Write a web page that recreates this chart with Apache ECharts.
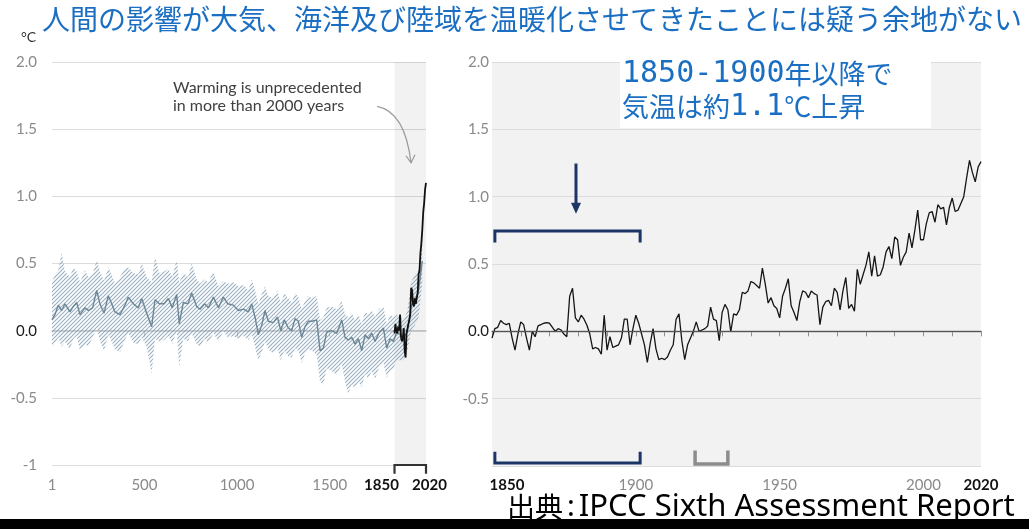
<!DOCTYPE html>
<html>
<head>
<meta charset="utf-8">
<script src="https://cdn.jsdelivr.net/npm/echarts@6/dist/echarts.min.js"></script>
<style>
  html, body { margin: 0; padding: 0; background: #fff; }
  #chart { width: 1029px; height: 529px; }
</style>
</head>
<body>
<div id="chart"></div>
<script>
// ---- Panel (a): reconstruction since year 1 ----
const reconYears = [1, 17, 35, 53, 71, 98, 116, 134, 152, 179, 197, 220, 242, 260, 282, 305, 323, 341, 368, 395,
  413, 440, 467, 485, 512, 539, 557, 580, 606, 629, 650, 674, 688, 710, 735, 755, 782, 800, 825, 845,
  872, 900, 926, 950, 980, 1007, 1035, 1061, 1079, 1097, 1115, 1133, 1151, 1169, 1195, 1218, 1236, 1255, 1277, 1295,
  1313, 1331, 1349, 1367, 1385, 1405, 1430, 1448, 1466, 1484, 1510, 1538, 1565, 1583, 1601, 1619, 1637, 1655, 1673, 1691,
  1709, 1727, 1745, 1765, 1790, 1808, 1826, 1844, 1862, 1880, 1900, 1920, 1940, 1960, 1980, 2000];
const reconMid = [0.08, 0.12, 0.19, 0.15, 0.20, 0.14, 0.18, 0.21, 0.12, 0.17, 0.15, 0.17, 0.30, 0.20, 0.13, 0.26, 0.20, 0.14, 0.12, 0.19,
  0.25, 0.20, 0.17, 0.24, 0.13, 0.03, 0.23, 0.20, 0.20, 0.24, 0.17, 0.27, 0.05, 0.21, 0.20, 0.28, 0.18, 0.16, 0.20, 0.17,
  0.25, 0.17, 0.25, 0.20, 0.19, 0.15, 0.16, 0.14, 0.20, 0.10, -0.03, 0.04, 0.15, 0.07, 0.06, 0.10, 0.00, 0.08, 0.02, 0.00,
  0.09, 0.07, -0.05, 0.03, 0.07, 0.07, 0.08, -0.15, -0.13, -0.01, 0.00, -0.02, 0.08, -0.05, -0.07, -0.05, -0.10, -0.06, -0.15, -0.03,
  -0.06, -0.02, -0.08, -0.02, 0.02, -0.13, -0.06, -0.08, -0.01, -0.03, -0.06, 0.00, 0.18, 0.22, 0.30, 0.52];
const reconHigh = [0.36, 0.42, 0.45, 0.58, 0.44, 0.40, 0.47, 0.44, 0.36, 0.45, 0.40, 0.42, 0.53, 0.44, 0.37, 0.47, 0.42, 0.35, 0.40, 0.46,
  0.47, 0.43, 0.42, 0.50, 0.40, 0.36, 0.55, 0.43, 0.44, 0.46, 0.40, 0.53, 0.36, 0.43, 0.40, 0.50, 0.38, 0.35, 0.38, 0.36,
  0.44, 0.33, 0.37, 0.35, 0.36, 0.33, 0.34, 0.30, 0.38, 0.30, 0.20, 0.27, 0.33, 0.26, 0.24, 0.30, 0.20, 0.28, 0.24, 0.21,
  0.28, 0.25, 0.16, 0.22, 0.26, 0.24, 0.26, 0.08, 0.10, 0.17, 0.18, 0.16, 0.22, 0.12, 0.10, 0.13, 0.08, 0.12, 0.05, 0.14,
  0.12, 0.15, 0.10, 0.16, 0.18, 0.05, 0.12, 0.10, 0.12, 0.10, 0.08, 0.15, 0.36, 0.42, 0.45, 0.70];
const reconLow = [-0.12, -0.10, -0.05, -0.12, -0.08, -0.14, -0.06, -0.04, -0.15, -0.10, -0.12, -0.05, 0.02, -0.08, -0.15, -0.03, -0.08, -0.14, -0.16, -0.07,
  -0.02, -0.09, -0.10, -0.05, -0.12, -0.32, -0.06, -0.08, -0.07, -0.04, -0.10, 0.00, -0.27, -0.06, -0.08, -0.02, -0.10, -0.12, -0.06, -0.09,
  -0.02, -0.08, 0.00, -0.05, -0.04, -0.06, -0.04, -0.07, -0.03, -0.12, -0.22, -0.16, -0.08, -0.14, -0.17, -0.13, -0.22, -0.15, -0.19, -0.20,
  -0.13, -0.15, -0.24, -0.17, -0.14, -0.15, -0.18, -0.38, -0.40, -0.28, -0.30, -0.33, -0.25, -0.38, -0.47, -0.40, -0.43, -0.38, -0.42, -0.32,
  -0.36, -0.30, -0.36, -0.28, -0.24, -0.35, -0.30, -0.28, -0.22, -0.22, -0.22, -0.15, 0.00, 0.04, 0.10, 0.35];

// Observed record drawn at the end of panel (a)
const obsYearsA = [1850, 1855, 1860, 1865, 1870, 1875, 1880, 1885, 1890, 1895, 1900, 1905, 1910, 1915, 1920, 1925, 1930, 1935,
  1940, 1945, 1950, 1955, 1960, 1965, 1970, 1975, 1980, 1985, 1990, 1995, 2000, 2005, 2010, 2015, 2020];
const obsValsA = [-0.02, 0.05, 0.00, -0.02, 0.03, 0.00, 0.12, -0.05, -0.08, -0.05, 0.02, -0.15, -0.20, -0.02, -0.03, 0.05, 0.08, 0.12,
  0.32, 0.30, 0.20, 0.18, 0.24, 0.20, 0.24, 0.28, 0.42, 0.45, 0.58, 0.65, 0.75, 0.88, 0.95, 1.05, 1.10];

// ---- Panel (b): annual observed anomaly 1850-2020 ----
const obsStartYear = 1850;
const obsAnnual = [
  -0.05, 0.02, 0.03, 0.08, 0.06, 0.05, 0.06, -0.05, -0.14, -0.02,
  0.07, 0.05, -0.05, -0.14, 0.00, -0.04, 0.04, 0.05, 0.06, 0.065,
  0.06, 0.03, 0.00, 0.02, 0.01, -0.02, -0.04, 0.26, 0.32, 0.10,
  0.07, 0.12, 0.09, 0.045, -0.02, -0.13, -0.12, -0.13, -0.17, 0.12,
  -0.14, -0.04, -0.12, -0.11, -0.10, -0.05, 0.09, 0.09, -0.10, 0.02,
  0.12, 0.06, -0.02, -0.10, -0.23, -0.09, 0.02, -0.13, -0.21, -0.20,
  -0.21, -0.19, -0.14, -0.10, 0.09, 0.13, -0.07, -0.21, -0.10, -0.05,
  0.00, 0.07, 0.00, 0.01, 0.02, 0.04, 0.18, 0.09, 0.08, -0.07,
  0.14, 0.20, 0.16, -0.005, 0.13, 0.12, 0.16, 0.29, 0.28, 0.30,
  0.37, 0.36, 0.34, 0.32, 0.47, 0.35, 0.21, 0.25, 0.19, 0.17,
  0.10, 0.26, 0.32, 0.39, 0.19, 0.14, 0.08, 0.22, 0.30, 0.29,
  0.25, 0.30, 0.28, 0.27, 0.05, 0.18, 0.22, 0.23, 0.19, 0.32,
  0.29, 0.16, 0.30, 0.40, 0.17, 0.20, 0.15, 0.46, 0.35, 0.42,
  0.49, 0.59, 0.41, 0.56, 0.41, 0.42, 0.48, 0.59, 0.63, 0.54,
  0.70, 0.68, 0.49, 0.55, 0.59, 0.73, 0.62, 0.75, 0.90, 0.68,
  0.68, 0.80, 0.88, 0.89, 0.81, 0.94, 0.91, 0.92, 0.79, 0.92,
  0.99, 0.89, 0.90, 0.95, 1.00, 1.14, 1.27, 1.18, 1.11, 1.22,
  1.26
];

// Tick labels
const leftXLabels = [1, 500, 1000, 1500, 1850, 2020];
const leftXTicks = [500, 1000, 1500];
const rightXLabels = [1850, 1900, 1950, 2000, 2020];

// Texts
const titleText = '人間の影響が大気、海洋及び陸域を温暖化させてきたことには疑う余地がない';
const noteLines = ['Warming is unprecedented', 'in more than 2000 years'];
const boxLine1 = ['1850-1900', '年以降で'];
const boxLine2 = ['気温は約', '1.1', '℃上昇'];
const sourceText = ['出典', ':', 'IPCC Sixth Assessment Report'];

const LAT = 'Lato, "Noto Sans", sans-serif';
const JP = '"Noto Sans CJK JP", "Noto Sans", sans-serif';
const BLUE = '#1b6fc3';

const chart = echarts.init(document.getElementById('chart'), null, { renderer: 'canvas' });

// diagonal hatching for the uncertainty band
function hatch() {
  const s = 4;
  const c = document.createElement('canvas');
  c.width = s; c.height = s;
  const g = c.getContext('2d');
  g.strokeStyle = 'rgba(128,155,176,0.8)';
  g.lineWidth = 1.1;
  g.beginPath();
  g.moveTo(-1, s + 1); g.lineTo(s + 1, -1);
  g.moveTo(-1, 1); g.lineTo(1, -1);
  g.moveTo(s - 1, s + 1); g.lineTo(s + 1, s - 1);
  g.stroke();
  return c;
}
const hatchImg = hatch();

function yAxisFor(gridIndex, margin, showMin) {
  return {
    type: 'value', gridIndex, min: -1, max: 2, interval: 0.5,
    axisLine: { show: false }, axisTick: { show: false },
    splitLine: { lineStyle: { color: '#dcdcdc', width: 1.2 } },
    axisLabel: {
      margin, color: '#8a8a8a', fontFamily: LAT, fontSize: 15,
      formatter: v => {
        if (v === -1) return showMin ? '-1' : '';
        if (v === 0) return '{z|0.0}';
        return v.toFixed(1);
      },
      rich: { z: { color: '#1a1a1a', fontFamily: LAT, fontSize: 15 } }
    }
  };
}

const boldRich = (pad) => ({ color: '#111', fontWeight: 'bold', fontFamily: LAT, fontSize: 15, padding: pad });

const option = {
  animation: false,
  backgroundColor: '#ffffff',
  grid: [
    { left: 52, right: 603, top: 62, bottom: 64 },
    { left: 492, right: 48, top: 62, bottom: 63, show: true, backgroundColor: '#f2f2f2', borderWidth: 0 }
  ],
  xAxis: [
    {
      type: 'value', gridIndex: 0, min: 1, max: 2020,
      axisLine: { lineStyle: { color: '#c6c6c6', width: 1.5 } },
      axisTick: { customValues: leftXTicks, length: 6, lineStyle: { color: '#c6c6c6', width: 1.2 } },
      splitLine: { show: false },
      axisLabel: {
        customValues: leftXLabels, margin: 13, color: '#8a8a8a', fontFamily: LAT, fontSize: 15,
        formatter: v => v === 1850 ? '{b|1850}' : v === 2020 ? '{e|2020}' : String(v),
        rich: { b: boldRich([0, 26, 0, 0]), e: boldRich([0, 0, 0, 7]) }
      }
    },
    {
      type: 'value', gridIndex: 1, min: 1850, max: 2020, interval: 10,
      axisLine: { lineStyle: { color: '#707070', width: 1.3 } },
      axisTick: { length: 5, lineStyle: { color: '#909090', width: 1 } },
      splitLine: { show: false },
      axisLabel: {
        margin: 12, color: '#8a8a8a', fontFamily: LAT, fontSize: 15,
        formatter: v => {
          if (v === 1850) return '{b|1850}';
          if (v === 2020) return '{e|2020}';
          return rightXLabels.indexOf(v) >= 0 ? String(v) : '';
        },
        rich: { b: boldRich([0, 0, 0, 30]), e: boldRich([0, 0, 0, 0]) }
      }
    }
  ],
  yAxis: [yAxisFor(0, 15, true), yAxisFor(1, 3, false)],
  series: [
    {
      name: 'band', type: 'custom', xAxisIndex: 0, yAxisIndex: 0, silent: true, z: 2,
      data: [[reconYears[0], reconMid[0]]],
      renderItem: (params, api) => {
        const pts = [];
        for (let i = 0; i < reconYears.length; i++) pts.push(api.coord([reconYears[i], reconHigh[i]]));
        for (let i = reconYears.length - 1; i >= 0; i--) pts.push(api.coord([reconYears[i], reconLow[i]]));
        return { type: 'polygon', shape: { points: pts }, style: { fill: { image: hatchImg, repeat: 'repeat' }, stroke: null } };
      }
    },
    {
      name: 'recon', type: 'line', xAxisIndex: 0, yAxisIndex: 0, z: 3,
      showSymbol: false, silent: true,
      data: reconYears.map((y, i) => [y, reconMid[i]]),
      lineStyle: { color: '#6c8696', width: 1.4 },
      markArea: {
        silent: true,
        itemStyle: { color: 'rgba(0,0,0,0.05)' },
        data: [[{ xAxis: 1850 }, { xAxis: 2020 }]]
      }
    },
    {
      name: 'observedA', type: 'line', xAxisIndex: 0, yAxisIndex: 0, z: 4,
      showSymbol: false, silent: true,
      data: obsYearsA.map((y, i) => [y, obsValsA[i]]),
      lineStyle: { color: '#111', width: 1.8 }
    },
    {
      name: 'observedB', type: 'line', xAxisIndex: 1, yAxisIndex: 1, z: 4,
      showSymbol: false, silent: true,
      data: obsAnnual.map((v, i) => [obsStartYear + i, v]),
      lineStyle: { color: '#151515', width: 1.3 },
      markLine: {
        silent: true, symbol: 'none', label: { show: false },
        lineStyle: { color: '#555', width: 1.2, type: 'solid' },
        data: [{ yAxis: 0 }]
      }
    }
  ]
};
chart.setOption(option);

// ---- annotations placed through the axis scales ----
const pA = (x, y) => chart.convertToPixel({ gridIndex: 0 }, [x, y]);
const pB = (x, y) => chart.convertToPixel({ gridIndex: 1 }, [x, y]);

function bracket(pts, color, width) {
  return { type: 'polyline', shape: { points: pts }, style: { stroke: color, lineWidth: width, fill: null, lineJoin: 'miter' }, z: 50 };
}

const NAVY = '#1d3566';
const g = [];

// 1850-2020 marker on panel (a) axis
g.push(bracket([pA(1850, -1.065), pA(1850, -1), pA(2020, -1), pA(2020, -1.065)], '#333', 2.2));

// reference period brackets on panel (b)
g.push(bracket([pB(1851, 0.66), pB(1851, 0.745), pB(1901.5, 0.745), pB(1901.5, 0.66)], NAVY, 3));
g.push(bracket([pB(1851, -0.895), pB(1851, -0.978), pB(1901.5, -0.978), pB(1901.5, -0.895)], NAVY, 3));
g.push(bracket([pB(1920.6, -0.885), pB(1920.6, -0.985), pB(1932, -0.985), pB(1932, -0.885)], '#8c8c8c', 3.5));

// down arrow above the reference period
const aTop = pB(1879.2, 1.246), aTip = pB(1879.2, 0.873);
g.push({ type: 'line', shape: { x1: aTop[0], y1: aTop[1], x2: aTip[0], y2: aTip[1] - 8 }, style: { stroke: NAVY, lineWidth: 3 }, z: 50 });
g.push({ type: 'polygon', shape: { points: [[aTip[0] - 5, aTip[1] - 11], [aTip[0] + 5, aTip[1] - 11], [aTip[0], aTip[1]]] }, style: { fill: NAVY }, z: 50 });

// curved pointer from the note to the recent warming
const c0 = pA(1756, 1.67), c1 = pA(1907, 1.63), c2 = pA(1939, 1.25);
g.push({ type: 'bezierCurve', shape: { x1: c0[0], y1: c0[1], cpx1: c1[0], cpy1: c1[1], x2: c2[0], y2: c2[1] }, style: { stroke: '#9a9a9a', lineWidth: 1.2, fill: null }, z: 50 });
g.push({ type: 'polyline', shape: { points: [[c2[0] - 5, c2[1] - 7], [c2[0], c2[1]], [c2[0] + 4, c2[1] - 8]] }, style: { stroke: '#9a9a9a', lineWidth: 1.2, fill: null }, z: 50 });

// texts
g.push({ type: 'text', left: 42, top: 5, z: 60, style: { text: titleText, fill: BLUE, font: '28px ' + JP } });
g.push({ type: 'text', left: 21, top: 30, z: 60, style: { text: '°C', fill: '#333', font: '14px ' + LAT } });
g.push({ type: 'text', left: 173, top: 79, z: 60, style: { text: noteLines.join('\n'), fill: '#404040', font: '16px ' + LAT, lineHeight: 18 } });

g.push({ type: 'rect', left: 620, top: 57, z: 55, shape: { width: 311, height: 71 }, style: { fill: '#ffffff' } });
g.push({
  type: 'text', left: 622, top: 59, z: 60,
  style: {
    text: '{d|' + boxLine1[0] + '}{j|' + boxLine1[1] + '}\n{j|' + boxLine2[0] + '}{d|' + boxLine2[1] + '}{j|' + boxLine2[2] + '}',
    rich: {
      d: { fill: BLUE, fontFamily: '"DejaVu Sans Mono", monospace', fontSize: 30, lineHeight: 33 },
      j: { fill: BLUE, fontFamily: JP, fontSize: 27, lineHeight: 33 }
    }
  }
});

g.push({
  type: 'text', left: 507, top: 492, z: 60,
  style: {
    text: '{j|' + sourceText[0] + '}{c|' + sourceText[1] + '}{l|' + sourceText[2] + '}',
    rich: {
      j: { fill: '#000', fontFamily: JP, fontSize: 28, lineHeight: 32 },
      c: { fill: '#000', fontFamily: '"Noto Sans", sans-serif', fontSize: 29, lineHeight: 32, padding: [0, 4, 0, 4] },
      l: { fill: '#000', fontFamily: '"Noto Sans", sans-serif', fontSize: 31, lineHeight: 32 }
    }
  }
});
g.push({ type: 'rect', left: 0, top: 519, z: 70, shape: { width: 1029, height: 10 }, style: { fill: '#000' } });

chart.setOption({ graphic: g });
</script>
</body>
</html>
